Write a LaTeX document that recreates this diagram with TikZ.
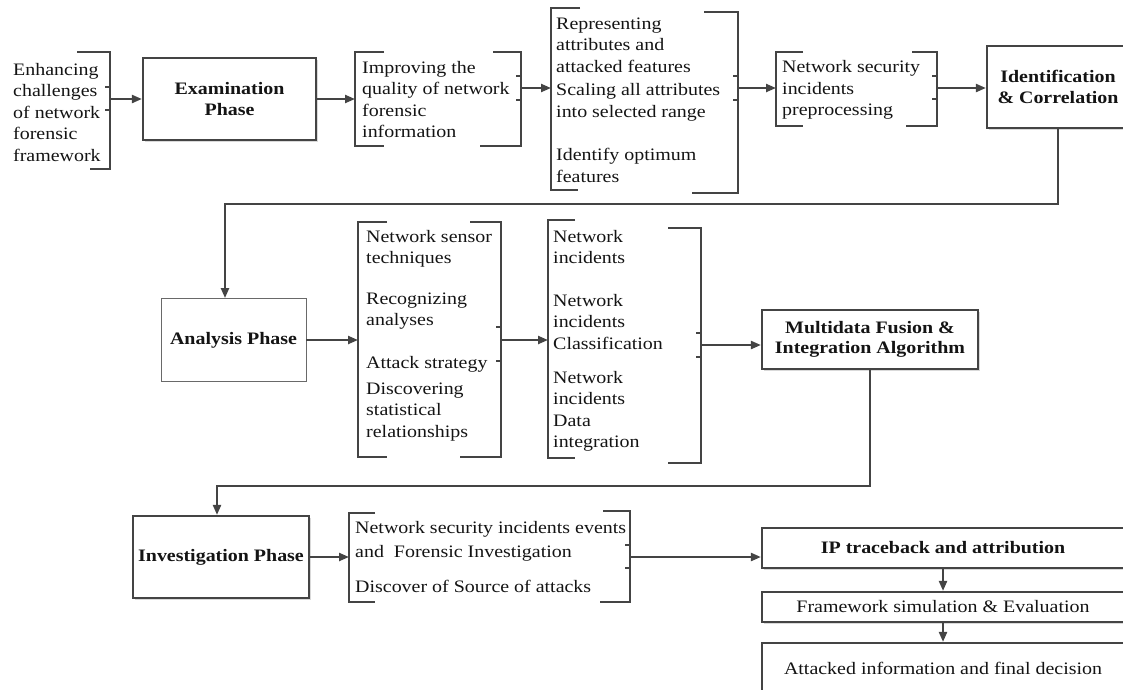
\documentclass[tikz,border=0pt]{standalone}
\usepackage{fontspec}
\setmainfont{Liberation Serif}[FakeStretch=1.14]
\usetikzlibrary{arrows.meta,shadows}
\definecolor{ln}{HTML}{444444}
\definecolor{tx}{HTML}{141414}
\begin{document}
\begin{tikzpicture}[x=1pt,y=-1pt,
  txt/.style={font=\fontsize{17.5}{21.5}\selectfont, text=tx, align=left, inner sep=0pt, anchor=west, yshift=-1.5pt},
  box/.style={draw=ln, line width=2.2pt, fill=white, inner sep=0pt, align=center,
    font=\fontsize{17.5}{20.5}\selectfont\bfseries, text=tx,
    drop shadow={shadow xshift=1.5pt, shadow yshift=-1.5pt, opacity=.3}},
  thinbox/.style={draw=ln!80, line width=0.9pt, fill=white, inner sep=0pt, align=center,
    font=\fontsize{17.5}{20.5}\selectfont\bfseries, text=tx},
  plainbox/.style={box, font=\fontsize{17.5}{20.5}\selectfont},
  grp/.style={inner sep=0pt, outer sep=0pt, anchor=north west},
  brk/.style={draw=ln, line width=2.2pt},
  arr/.style={draw=ln, line width=2.2pt, -{Triangle[length=10pt,width=8pt]}}]

\useasboundingbox (0,0) rectangle (1123,689);

% ---------- row 1 ----------
\node[grp, minimum width=97, minimum height=117] (g1) at (13,52) {};
\node[txt] (enh) at (13,111) {Enhancing\\challenges\\of network\\forensic\\framework};
\draw[brk] (77,52) -- (110,52) -- (110,169) -- (90,169);
\draw[brk] (105,87) -- (110,87) (105,110) -- (110,110);

\node[box, minimum width=173, minimum height=82] (exam) at (229.5,99) {Examination\\Phase};

\node[grp, minimum width=166, minimum height=94] (g2) at (355,52) {};
\node[txt] (imp) at (362,98) {Improving the\\quality of network\\forensic\\information};
\draw[brk] (384,52) -- (355,52) -- (355,146) -- (384,146);
\draw[brk] (493,52) -- (521,52) -- (521,146) -- (480,146);
\draw[brk] (516,76) -- (521,76) (516,100) -- (521,100);
\coordinate (g2o) at (521,88);

\node[grp, minimum width=187, minimum height=185] (g3) at (551,8) {};
\node[txt] (rep) at (556,43.5) {Representing\\attributes and\\attacked features};
\node[txt] (scal) at (556,101) {Scaling all attributes\\into selected range};
\node[txt] (opt) at (556,164) {Identify optimum\\features};
\draw[brk] (580,8) -- (551,8) -- (551,190) -- (578,190);
\draw[brk] (704,12) -- (738,12) -- (738,193) -- (692,193);
\draw[brk] (733,76) -- (738,76) (733,100) -- (738,100);
\coordinate (g3o) at (738,88);

\node[grp, minimum width=161, minimum height=74] (g4) at (776,52) {};
\node[txt] (nss) at (782,88.5) {Network security\\incidents\\preprocessing};
\draw[brk] (803,52) -- (776,52) -- (776,126) -- (803,126);
\draw[brk] (912,52) -- (937,52) -- (937,126) -- (906,126);
\draw[brk] (932,76) -- (937,76) (932,99) -- (937,99);
\coordinate (g4o) at (937,88);

\node[box, minimum width=142, minimum height=82] (ident) at (1058,87) {Identification\\\& Correlation};

% ---------- row 2 ----------
\node[thinbox, minimum width=145, minimum height=83] (ana) at (233.5,340) {Analysis Phase};

\node[grp, minimum width=143, minimum height=235] (g5) at (358,222) {};
\node[txt] (sens) at (366,247.5) {Network sensor\\techniques};
\node[txt] (reco) at (366,309.5) {Recognizing\\analyses};
\node[txt] (strat) at (366,363) {Attack strategy};
\node[txt] (disc) at (366,410.5) {Discovering\\statistical\\relationships};
\draw[brk] (387,222) -- (358,222) -- (358,457) -- (387,457);
\draw[brk] (470,222) -- (501,222) -- (501,457) -- (460,457);
\draw[brk] (496,327) -- (501,327) (496,361) -- (501,361);
\coordinate (g5o) at (501,340);

\node[grp, minimum width=153, minimum height=243] (g6) at (548,220) {};
\node[txt] (inc1) at (553,245.5) {Network\\incidents};
\node[txt] (inc2) at (553,320.5) {Network\\incidents\\Classification};
\node[txt] (inc3) at (553,410) {Network\\incidents\\Data\\integration};
\draw[brk] (575,220) -- (548,220) -- (548,458) -- (575,458);
\draw[brk] (668,228) -- (701,228) -- (701,463) -- (668,463);
\draw[brk] (696,333) -- (701,333) (696,357) -- (701,357);
\coordinate (g6o) at (701,345);

\node[box, minimum width=216, minimum height=59] (multi) at (870,339.5) {Multidata Fusion \&\\Integration Algorithm};

% ---------- row 3 ----------
\node[box, minimum width=176, minimum height=82] (inv) at (221,557) {Investigation Phase};

\node[grp, minimum width=281, minimum height=91] (g7) at (349,511) {};
\node[txt] (evt) at (355,540) {Network security incidents events\\[2.5pt]and\ \ Forensic Investigation};
\node[txt] (src) at (355,585) {Discover of Source of attacks};
\draw[brk] (375,513) -- (349,513) -- (349,602) -- (375,602);
\draw[brk] (603,511) -- (630,511) -- (630,602) -- (600,602);
\draw[brk] (625,545) -- (630,545) (625,568) -- (630,568);
\coordinate (g7o) at (630,557);

\node[box, minimum width=362, minimum height=40] (ip) at (943,548) {IP traceback and attribution};
\node[plainbox, minimum width=362, minimum height=30] (fw) at (943,607) {Framework simulation \& Evaluation};
\node[plainbox, minimum width=362, minimum height=50] (att) at (943,668) {Attacked information and final decision};

% ---------- connectors ----------
\draw[arr] (g1.east |- exam.west) -- (exam.west);
\draw[arr] (exam.east) -- (exam.east -| g2.west);
\draw[arr] (g2o) -- (g2o -| g3.west);
\draw[arr] (g3o) -- (g3o -| g4.west);
\draw[arr] (g4o) -- (g4o -| ident.west);

\coordinate (k1) at (225,204);
\draw[arr] (ident.south) |- (k1) -- (k1 |- ana.north);
\draw[arr] (ana.east) -- (ana.east -| g5.west);
\draw[arr] (g5o) -- (g5o -| g6.west);
\draw[arr] (g6o) -- (g6o -| multi.west);

\coordinate (k2) at (217,486);
\draw[arr] (multi.south) |- (k2) -- (k2 |- inv.north);
\draw[arr] (inv.east) -- (inv.east -| g7.west);
\draw[arr] (g7o) -- (g7o -| ip.west);
\draw[arr] (ip.south) -- (fw.north);
\draw[arr] (fw.south) -- (att.north);
\end{tikzpicture}
\end{document}
